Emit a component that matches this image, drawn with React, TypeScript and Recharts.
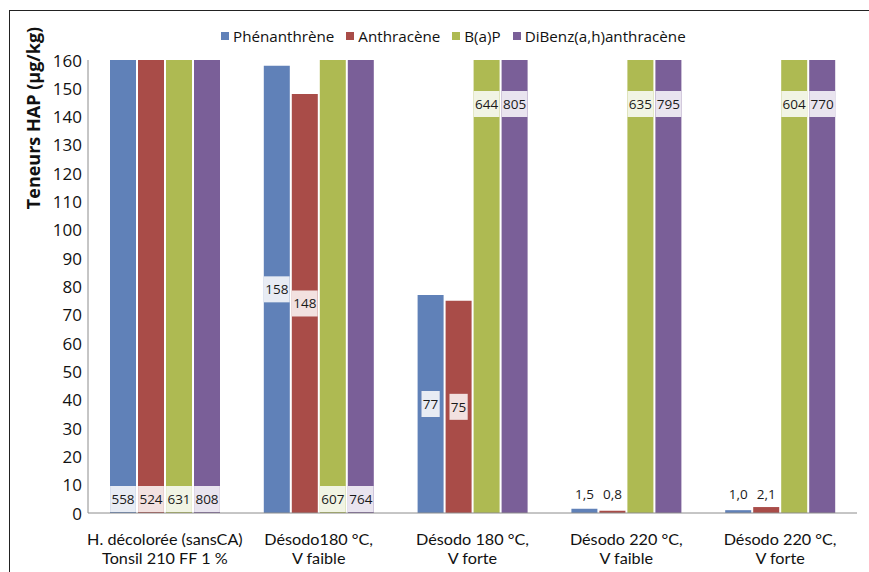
import React from 'react';
import { BarChart, Bar, XAxis, YAxis, LabelList } from 'recharts';

const categories = [
  'H. décolorée (sansCA)|Tonsil 210 FF 1 %',
  'Désodo180 °C,|V faible',
  'Désodo 180 °C,|V forte',
  'Désodo 220 °C,|V faible',
  'Désodo 220 °C,|V forte',
];
const phenanthrene = [558, 158, 77, 1.5, 1.0];
const anthracene = [524, 148, 75, 0.8, 2.1];
const bap = [631, 607, 644, 635, 604];
const dibenz = [808, 764, 805, 795, 770];
const yTicks = [0, 10, 20, 30, 40, 50, 60, 70, 80, 90, 100, 110, 120, 130, 140, 150, 160];
const clippedLabelPlace = ['bottom', 'bottom', 'top', 'top', 'top'];

const series = [
  { key: 'phen', name: 'Phénanthrène', color: '#6081b8', light: '#e8ecf4' },
  { key: 'anth', name: 'Anthracène', color: '#a94c48', light: '#f2e1e0' },
  { key: 'bap', name: 'B(a)P', color: '#aeba52', light: '#f1f4e4' },
  { key: 'dib', name: 'DiBenz(a,h)anthracène', color: '#7a5f98', light: '#e9e4ef' },
];

const data = categories.map((c, i) => ({
  cat: c,
  phen: phenanthrene[i],
  anth: anthracene[i],
  bap: bap[i],
  dib: dibenz[i],
}));

const YMAX = 160;
const FONT = '"Open Sans", sans-serif';
const XFONT = 'Lato, "Open Sans", sans-serif';

const fmt = (v: number) => (v < 10 ? v.toFixed(1).replace('.', ',') : String(v));

const makeLabel = (light: string) => (props: any) => {
  const { x, y, width, height, value, index } = props;
  const v = Number(value);
  const bottom = y + height;
  const cx = x + width / 2;
  const txt = fmt(v);
  if (v < 5) {
    return (
      <text x={cx} y={bottom - 19} textAnchor="middle" dominantBaseline="central"
        fontFamily={FONT} fontSize={13.5} fill="#1a1a1a">{txt}</text>
    );
  }
  const plotH = (height * YMAX) / v;
  let cy: number;
  if (v <= YMAX) cy = y + height / 2;
  else if (clippedLabelPlace[index] === 'bottom') cy = bottom - 14;
  else cy = bottom - plotH + 44;
  const w = txt.length * 7.6 + 3;
  const h = 26;
  return (
    <g>
      <rect x={cx - w / 2} y={cy - h / 2} width={w} height={h} fill={light} />
      <text x={cx} y={cy} textAnchor="middle" dominantBaseline="central"
        fontFamily={FONT} fontSize={13.5} fill="#1a1a1a">{txt}</text>
    </g>
  );
};

const XTick = (props: any) => {
  const { x, y, payload } = props;
  const lines = String(payload.value).split('|');
  return (
    <g>
      {lines.map((l, i) => (
        <text key={i} x={x} y={y + 24 + i * 19} textAnchor="middle" fontFamily={XFONT}
          fontSize={16.2} fill="#111">{l}</text>
      ))}
    </g>
  );
};

const YTick = (props: any) => {
  const { x, y, payload } = props;
  return (
    <text x={x + 2} y={y} textAnchor="end" dominantBaseline="central" fontFamily={FONT}
      fontSize={17} fill="#111">{payload.value}</text>
  );
};

const LegendBox = () => (
  <div style={{ position: 'absolute', left: 221, top: 26, display: 'flex', alignItems: 'center', fontFamily: FONT, fontSize: 15.2, color: '#111', whiteSpace: 'nowrap' }}>
    {series.map((s, i) => (
      <div key={s.key} style={{ display: 'flex', alignItems: 'center', marginRight: i < 3 ? 12 : 0 }}>
        <span style={{ display: 'inline-block', width: 8, height: 8, background: s.color, marginRight: 4 }} />
        <span>{s.name}</span>
      </div>
    ))}
  </div>
);

const YTitle = (props: any) => {
  const { viewBox } = props;
  const cx = 33;
  const cy = viewBox.y + 58;
  return (
    <text x={cx} y={cy} transform={`rotate(-90 ${cx} ${cy})`} textAnchor="middle"
      dominantBaseline="central" fontFamily={FONT} fontSize={18} fontWeight="bold" fill="#111">
      Teneurs HAP (µg/kg)
    </text>
  );
};

export default function App() {
  return (
    <div style={{ position: 'absolute', left: 0, top: 0, width: 869, height: 572, overflow: 'hidden', background: '#fff' }}>
      <div style={{ position: 'absolute', left: 9, top: 10, width: 1000, height: 1000, borderLeft: '1.5px solid #222', borderTop: '1.5px solid #222' }} />
      <div style={{ position: 'absolute', left: 0, top: 0 }}>
        <BarChart width={869} height={572} data={data} margin={{ top: 60, right: 12, bottom: 0, left: 0 }}
          barGap={2} barSize={26}>
          <XAxis dataKey="cat" height={59} tick={<XTick />} tickLine={false} axisLine={{ stroke: '#8c8c8c' }} interval={0} />
          <YAxis width={88} domain={[0, YMAX]} ticks={yTicks} allowDataOverflow tick={<YTick />}
            tickLine={false} axisLine={{ stroke: '#8c8c8c' }} label={<YTitle />} />
          {series.map((s) => (
            <Bar key={s.key} dataKey={s.key} name={s.name} fill={s.color} isAnimationActive={false}>
              <LabelList dataKey={s.key} content={makeLabel(s.light)} />
            </Bar>
          ))}
        </BarChart>
      </div>
      <LegendBox />
    </div>
  );
}
